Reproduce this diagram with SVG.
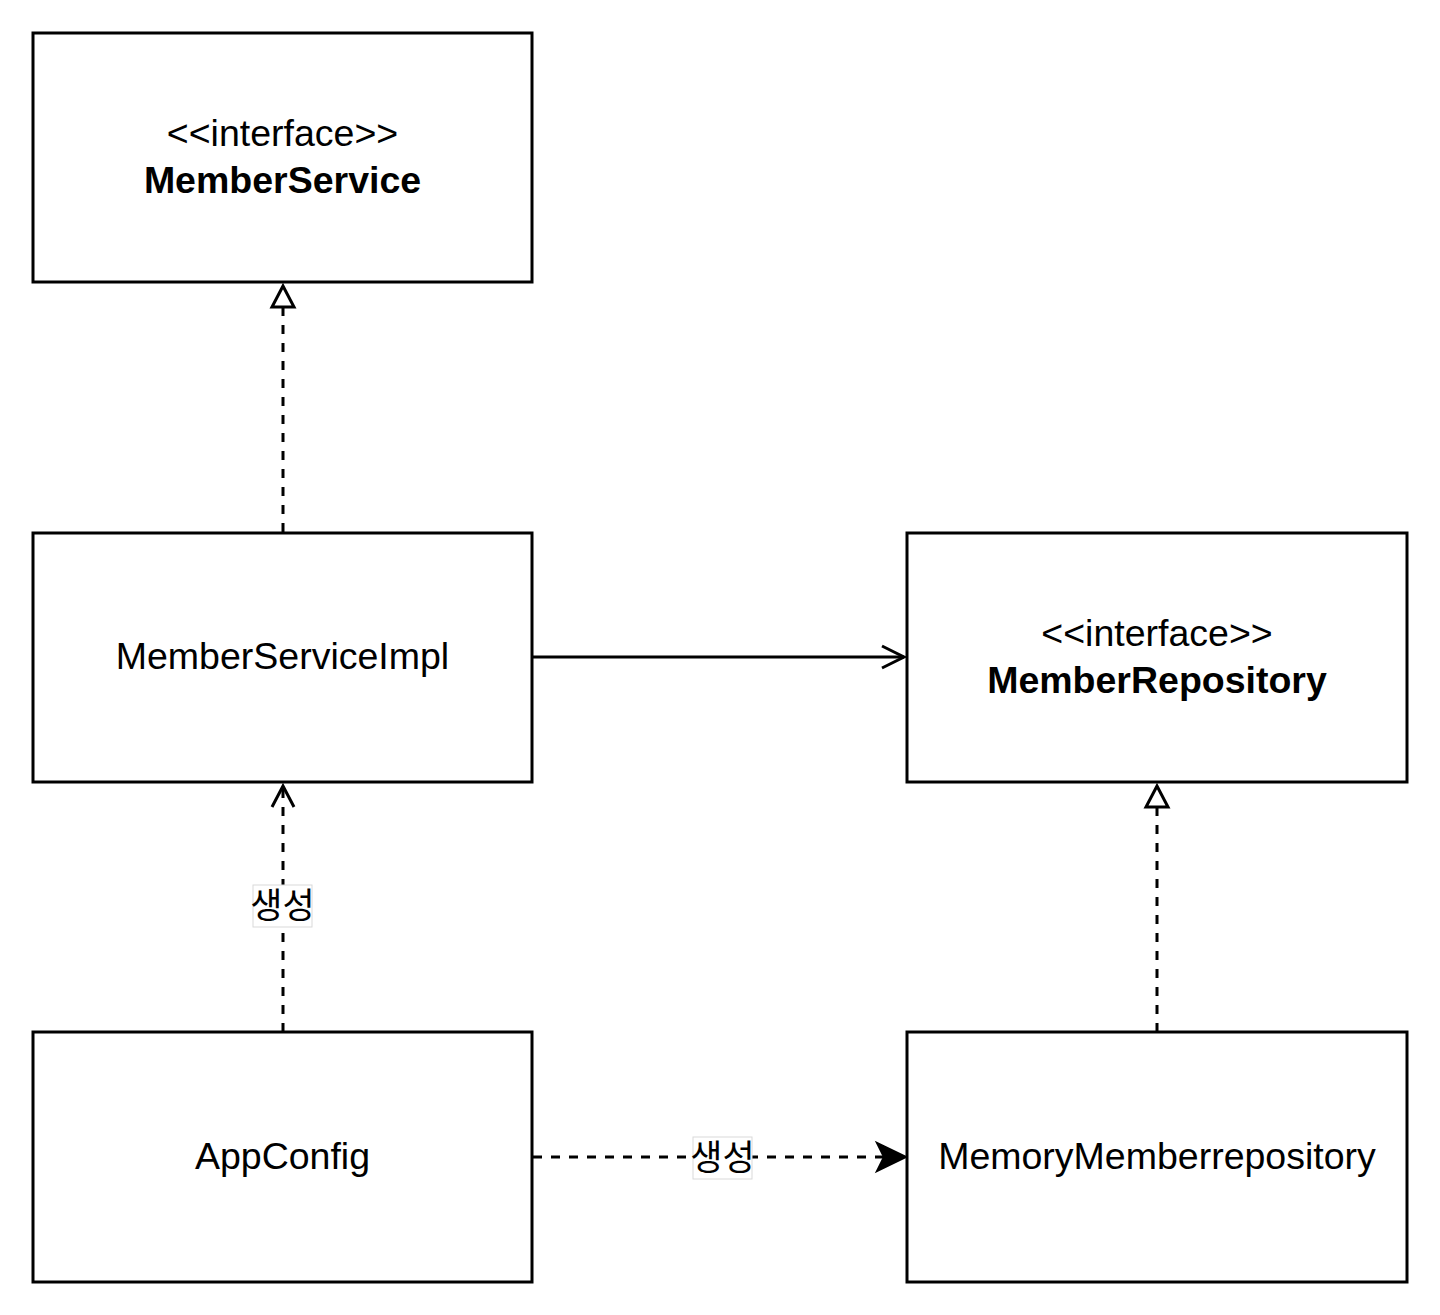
<svg xmlns="http://www.w3.org/2000/svg" width="1440" height="1315" viewBox="0 0 1440 1315">
<style>
.box{fill:#fff;stroke:#000;stroke-width:3}
.t{font-family:"Liberation Sans",Arial,sans-serif;font-size:37.5px;fill:#000;text-anchor:middle}
.b{font-weight:bold}
.k{font-family:"Noto Sans CJK KR","Liberation Sans",sans-serif;font-size:35px;font-weight:400;fill:#000;text-anchor:middle}
.ln{fill:none;stroke:#000;stroke-width:3}
.d{stroke-dasharray:9 9}
.lb{fill:#fff;stroke:#d9d9d9;stroke-width:1}
</style>
<rect width="1440" height="1315" fill="#fff"/>
<g id="connectors">
<line class="ln d" x1="283" y1="532" x2="283" y2="307"/>
<polygon points="283,286 272,307 294,307" fill="#fff" stroke="#000" stroke-width="3" stroke-linejoin="miter"/>
<line class="ln d" x1="1157" y1="1032" x2="1157" y2="807"/>
<polygon points="1157,786 1146,807 1168,807" fill="#fff" stroke="#000" stroke-width="3"/>
<line class="ln" x1="533" y1="657" x2="904" y2="657"/>
<polyline class="ln" points="882,646 904,657 882,668"/>
<line class="ln d" x1="283" y1="1032" x2="283" y2="787"/>
<polyline class="ln" points="272,807 283,786 294,807"/>
<line class="ln d" x1="533" y1="1157" x2="885" y2="1157"/>
<polygon points="906,1157 877,1143 884,1157 877,1171" fill="#000" stroke="#000" stroke-width="2"/>
<rect class="lb" x="253" y="885" width="59" height="42"/>
<text class="k" x="282.5" y="918">생성</text>
<rect class="lb" x="693" y="1137" width="59" height="42"/>
<text class="k" x="722.5" y="1170">생성</text>
</g>
<g id="MemberService">
<rect class="box" x="33" y="33" width="499" height="249"/>
<text class="t" x="282.5" y="146">&lt;&lt;interface&gt;&gt;</text>
<text class="t b" x="282.5" y="193">MemberService</text>
</g>
<g id="MemberServiceImpl">
<rect class="box" x="33" y="533" width="499" height="249"/>
<text class="t" x="282.5" y="669">MemberServiceImpl</text>
</g>
<g id="MemberRepository">
<rect class="box" x="907" y="533" width="500" height="249"/>
<text class="t" x="1157" y="646">&lt;&lt;interface&gt;&gt;</text>
<text class="t b" x="1157" y="693">MemberRepository</text>
</g>
<g id="AppConfig">
<rect class="box" x="33" y="1032" width="499" height="250"/>
<text class="t" x="282.5" y="1169">AppConfig</text>
</g>
<g id="MemoryMemberrepository">
<rect class="box" x="907" y="1032" width="500" height="250"/>
<text class="t" x="1157" y="1169">MemoryMemberrepository</text>
</g>
</svg>
